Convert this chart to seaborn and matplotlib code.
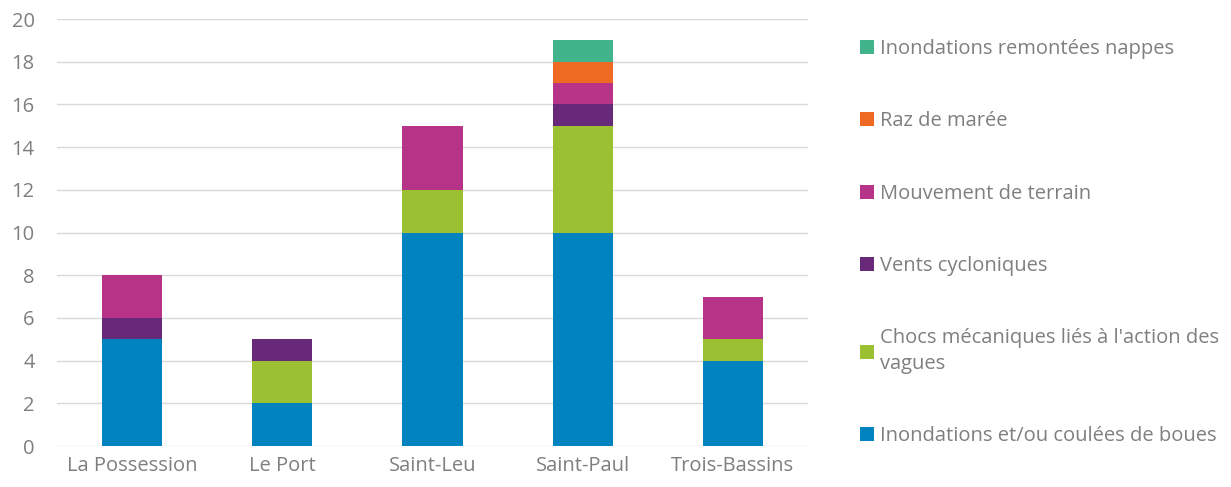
import pandas as pd
import matplotlib
matplotlib.use("Agg")
import matplotlib.pyplot as plt
import seaborn as sns

communes = ["La Possession", "Le Port", "Saint-Leu", "Saint-Paul", "Trois-Bassins"]

# stacked from bottom to top
inondations_boues = [5, 2, 10, 10, 4]
chocs_vagues = [0, 2, 2, 5, 1]
vents_cycloniques = [1, 1, 0, 1, 0]
mouvement_terrain = [2, 0, 3, 1, 2]
raz_de_maree = [0, 0, 0, 1, 0]
nappes = [0, 0, 0, 1, 0]

series = [
    ("Inondations et/ou coulées de boues", inondations_boues, "#0083BF"),
    ("Chocs mécaniques liés à l'action des\nvagues", chocs_vagues, "#9BC132"),
    ("Vents cycloniques", vents_cycloniques, "#68297A"),
    ("Mouvement de terrain", mouvement_terrain, "#B63387"),
    ("Raz de marée", raz_de_maree, "#EE6A22"),
    ("Inondations remontées nappes", nappes, "#42B48C"),
]

sns.set_style("white")
plt.rcParams["font.family"] = ["Open Sans", "DejaVu Sans"]
grey = "#7F7F7F"
fs = 14.5

fig = plt.figure(figsize=(12.31, 4.87), dpi=100)
ax = fig.add_axes([57 / 1231, 41 / 487, 751 / 1231, 427 / 487])

df = pd.DataFrame({"commune": communes})
running = [0] * len(communes)
cums = []
for name, vals, col in series:
    running = [a + b for a, b in zip(running, vals)]
    cums.append((name, list(running), col))

# draw the cumulative totals from the top series down so they overlap into stacks
for name, tot, col in reversed(cums):
    df["v"] = tot
    sns.barplot(data=df, x="commune", y="v", color=col, width=0.4,
                saturation=1, ax=ax, label=name, errorbar=None, linewidth=0)

ax.set_ylim(0, 20)
ax.set_yticks(range(0, 21, 2))
ax.set_xlim(-0.5, 4.5)
ax.set_xlabel("")
ax.set_ylabel("")
ax.grid(axis="y", color="#D9D9D9", linewidth=1)
ax.set_axisbelow(True)
for s in ax.spines.values():
    s.set_visible(False)
ax.tick_params(axis="both", colors=grey, labelsize=fs, length=0)
ax.tick_params(axis="y", pad=16)
ax.tick_params(axis="x", pad=7)

h, l = ax.get_legend_handles_labels()
if ax.get_legend():
    ax.get_legend().remove()
leg = fig.legend(h, l, loc="upper left", bbox_to_anchor=(852 / 1231, 1 - 31 / 487),
                 frameon=False, fontsize=fs, labelcolor=grey, handlelength=0.7,
                 handleheight=0.7, handletextpad=0.3, labelspacing=2.6,
                 borderaxespad=0)
for t in leg.get_texts():
    t.set_linespacing(1.35)

fig.savefig("out.png", dpi=100)
